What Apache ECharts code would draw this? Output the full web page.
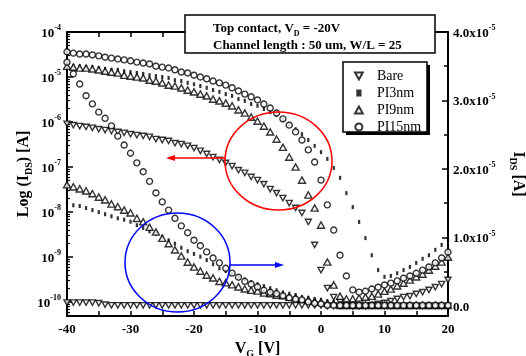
<!DOCTYPE html>
<html><head><meta charset="utf-8">
<script src="https://cdn.jsdelivr.net/npm/echarts@6/dist/echarts.min.js"></script>
<style>html,body{margin:0;padding:0;background:#fff}#c{width:526px;height:356px}</style>
</head><body><div id="c"></div>
<script>
// Gate voltage sweep (V)
const vg = [-40,-39,-38,-37,-36,-35,-34,-33,-32,-31,-30,-29,-28,-27,-26,-25,-24,-23,-22,-21,-20,-19,-18,-17,-16,-15,-14,-13,-12,-11,-10,-9,-8,-7,-6,-5,-4,-3,-2,-1,0,1,2,3,4,5,6,7,8,9,10,11,12,13,14,15,16,17,18,19,20];

// Log10(I_DS [A]) - left axis
const bareLog = [-6.04,-6.07,-6.09,-6.11,-6.13,-6.16,-6.18,-6.20,-6.22,-6.24,-6.27,-6.29,-6.31,-6.33,-6.38,-6.40,-6.42,-6.47,-6.49,-6.53,-6.58,-6.64,-6.71,-6.78,-6.84,-6.91,-6.98,-7.07,-7.13,-7.22,-7.29,-7.38,-7.49,-7.58,-7.69,-7.80,-7.91,-8.02,-8.22,-8.73,-9.29,-9.69,-9.89,-10.00,-10.07,-10.09,-10.09,-10.09,-10.07,-10.04,-10.02,-9.98,-9.93,-9.89,-9.87,-9.82,-9.78,-9.73,-9.67,-9.60,-9.51];
const pi3Log = [-4.73,-4.76,-4.76,-4.78,-4.78,-4.80,-4.82,-4.84,-4.84,-4.87,-4.89,-4.91,-4.93,-4.96,-4.98,-5.00,-5.02,-5.07,-5.09,-5.13,-5.16,-5.20,-5.24,-5.29,-5.33,-5.38,-5.42,-5.49,-5.53,-5.60,-5.64,-5.71,-5.78,-5.84,-5.96,-6.04,-6.16,-6.27,-6.40,-6.53,-6.67,-6.82,-7.02,-7.24,-7.58,-7.89,-8.22,-8.58,-8.96,-9.29,-9.44,-9.42,-9.36,-9.29,-9.22,-9.13,-9.04,-8.96,-8.84,-8.73,-8.62];
const pi9Log = [-4.76,-4.78,-4.80,-4.80,-4.82,-4.84,-4.87,-4.89,-4.91,-4.96,-4.98,-5.00,-5.02,-5.07,-5.09,-5.13,-5.18,-5.20,-5.24,-5.29,-5.33,-5.38,-5.42,-5.49,-5.53,-5.58,-5.64,-5.73,-5.80,-5.89,-5.98,-6.09,-6.22,-6.38,-6.56,-6.78,-7.00,-7.29,-7.62,-7.91,-8.29,-9.11,-9.62,-9.87,-9.93,-9.93,-9.91,-9.89,-9.87,-9.82,-9.76,-9.71,-9.64,-9.58,-9.51,-9.44,-9.38,-9.29,-9.20,-9.11,-9.00];
const pi15Log = [-4.44,-4.47,-4.49,-4.49,-4.51,-4.53,-4.56,-4.58,-4.60,-4.62,-4.64,-4.67,-4.69,-4.71,-4.76,-4.78,-4.80,-4.84,-4.89,-4.91,-4.96,-5.00,-5.04,-5.09,-5.13,-5.18,-5.24,-5.31,-5.38,-5.44,-5.51,-5.60,-5.69,-5.80,-5.93,-6.07,-6.22,-6.40,-6.62,-6.89,-7.29,-7.84,-8.40,-8.96,-9.42,-9.73,-9.78,-9.76,-9.71,-9.67,-9.62,-9.58,-9.53,-9.47,-9.42,-9.36,-9.29,-9.22,-9.13,-9.02,-8.89];

// I_DS in units of 1e-5 A - right axis
const bareLin = [0.05,0.05,0.05,0.05,0.05,0.04,0.02,0.01,0.01,0.01,0.01,0.01,0.01,0.01,0.01,0.01,0.01,0.01,0.01,0.01,0.01,0.01,0.01,0.01,0.01,0.01,0.01,0.01,0.01,0.01,0.01,0.01,0.01,0.01,0.01,0.01,0.01,0.01,0.01,0.01,0.01,0.00,0.00,0.00,0.00,0.00,0.00,0.00,0.00,0.00,0.00,0.00,0.00,0.00,0.00,0.00,0.00,0.00,0.00,0.00,0.00];
const pi3Lin = [1.50,1.47,1.46,1.43,1.40,1.37,1.34,1.31,1.28,1.26,1.23,1.18,1.14,1.09,1.05,1.01,0.96,0.91,0.85,0.80,0.76,0.72,0.67,0.61,0.55,0.51,0.47,0.42,0.39,0.35,0.32,0.29,0.26,0.23,0.20,0.18,0.16,0.13,0.12,0.10,0.09,0.07,0.06,0.04,0.03,0.01,0.01,0.01,0.01,0.01,0.01,0.01,0.01,0.01,0.01,0.01,0.01,0.01,0.01,0.01,0.01];
const pi9Lin = [1.77,1.74,1.71,1.68,1.64,1.59,1.55,1.49,1.45,1.40,1.36,1.28,1.23,1.15,1.08,0.99,0.91,0.82,0.73,0.64,0.57,0.51,0.45,0.41,0.36,0.34,0.31,0.28,0.25,0.23,0.22,0.19,0.18,0.16,0.15,0.13,0.12,0.10,0.09,0.07,0.06,0.04,0.03,0.01,0.01,0.01,0.01,0.01,0.01,0.01,0.01,0.01,0.01,0.01,0.01,0.01,0.01,0.01,0.01,0.01,0.01];
const pi15Lin = [3.56,3.39,3.24,3.07,2.95,2.83,2.74,2.63,2.48,2.35,2.23,2.09,1.96,1.82,1.65,1.52,1.40,1.28,1.17,1.07,0.96,0.88,0.79,0.70,0.63,0.55,0.48,0.42,0.36,0.32,0.28,0.23,0.20,0.18,0.15,0.12,0.10,0.09,0.06,0.04,0.03,0.01,0.01,0.01,0.01,0.01,0.01,0.01,0.01,0.01,0.01,0.01,0.01,0.01,0.01,0.01,0.01,0.01,0.01,0.01,0.01];

// tick labels
const xTicks = [-40,-30,-20,-10,0,10,20];
const leftExps = [-10,-9,-8,-7,-6,-5,-4];
const rightTicks = [0,1,2,3,4];
const rightMinor = [0.5,1.5,2.5,3.5];
const legendNames = ['Bare','PI3nm','PI9nm','PI15nm'];

const F = 'Liberation Serif';
const leftMinor = [];
for (let n = -11; n <= -5; n++) for (let k = 2; k <= 9; k++) {
  const v = n + Math.log10(k);
  if (v > -10.31 && v < -4) leftMinor.push(v);
}

const triDown = 'path://M0,0L10,0L5,9Z';
const triUp = 'path://M5,0L10,9L0,9Z';
const smallRect = 'path://M0,0L3,0L3,4L0,4Z';
const hollow = {color:'#fff', borderColor:'#000', borderWidth:1.4};
const filled = {color:'#000', borderWidth:0};

function ser(name, arr, yIdx, symbol, size, st) {
  return {type:'scatter', name, xAxisIndex:0, yAxisIndex:yIdx, symbol, symbolSize:size,
    symbolKeepAspect:true, itemStyle:st, data: vg.map((v,i)=>[v, arr[i]]), silent:true};
}

const supRich = {
  b:{fontFamily:F, fontWeight:'bold', fontSize:13, color:'#000', lineHeight:16, verticalAlign:'bottom'},
  s:{fontFamily:F, fontWeight:'bold', fontSize:8, color:'#000', verticalAlign:'top', lineHeight:16}
};
const subRich = (fs) => ({
  sub:{fontFamily:F, fontWeight:'bold', fontSize:Math.round(fs*0.62), color:'#000', verticalAlign:'bottom', lineHeight:fs+4}
});
const clearLine = {show:true, onZero:false, lineStyle:{color:'rgba(0,0,0,0)', width:1}};

const chart = echarts.init(document.getElementById('c'), null, {renderer:'canvas'});
chart.setOption({
  animation:false,
  backgroundColor:'#fff',
  grid:{left:67, right:78, top:32, bottom:40, containLabel:false, outerBoundsMode:'none'},
  legend:{
    left:349, top:64, orient:'vertical', itemWidth:26, itemHeight:7, itemGap:3,
    selectedMode:false, data:legendNames, symbolKeepAspect:true,
    textStyle:{fontFamily:F, fontSize:14, color:'#000'}
  },
  xAxis:[{
    type:'value', position:'bottom', min:-40, max:20, interval:10,
    axisLine:{onZero:false, lineStyle:{color:'#000', width:2}},
    axisTick:{inside:true, length:5, lineStyle:{width:1.5, color:'#000'}},
    minorTick:{show:true, splitNumber:2, length:5, lineStyle:{width:1.5, color:'#000'}},
    splitLine:{show:false},
    axisLabel:{fontFamily:F, fontWeight:'bold', fontSize:13, color:'#000', margin:7},
    name:'V{sub|G} [V]', nameLocation:'middle', nameGap:23,
    nameTextStyle:{fontFamily:F, fontWeight:'bold', fontSize:16, color:'#000', rich:subRich(16)}
  },{
    type:'value', position:'top', min:-40, max:20, interval:10,
    axisLine:{onZero:false, lineStyle:{color:'#000', width:2}},
    axisTick:{inside:true, length:5, lineStyle:{width:1.5, color:'#000'}},
    minorTick:{show:true, splitNumber:2, length:5, lineStyle:{width:1.5, color:'#000'}},
    splitLine:{show:false}, axisLabel:{show:false}
  }],
  yAxis:[{
    type:'value', position:'left', min:-10.31, max:-4,
    axisLine:{onZero:false, lineStyle:{color:'#000', width:2}},
    axisTick:{inside:true, length:6, customValues:leftExps, lineStyle:{width:1.5, color:'#000'}},
    splitLine:{show:false},
    axisLabel:{customValues:leftExps, margin:6, formatter:(v)=>'{b|10}{s|'+v+'}', rich:supRich},
    name:'Log (I{sub|DS}) [A]', nameLocation:'middle', nameRotate:90, nameGap:33, nameMoveOverlap:false,
    nameTextStyle:{fontFamily:F, fontWeight:'bold', fontSize:16, color:'#000', rich:subRich(16)}
  },{
    type:'value', position:'left', offset:0, min:-10.31, max:-4,
    axisLine:clearLine,
    axisTick:{show:true, inside:true, length:3, customValues:leftMinor, lineStyle:{width:1.2, color:'#000'}},
    splitLine:{show:false},
    axisLabel:{show:true, customValues:leftMinor, formatter:()=>''}
  },{
    type:'value', position:'right', min:-0.146, max:4,
    axisLine:{onZero:false, lineStyle:{color:'#000', width:2}},
    axisTick:{inside:true, length:6, customValues:rightTicks, lineStyle:{width:1.5, color:'#000'}},
    splitLine:{show:false},
    axisLabel:{customValues:rightTicks, margin:5,
      formatter:(v)=> v===0 ? '{b|0.0}' : '{b|'+v.toFixed(1)+'x10}{s|-5}', rich:supRich},
    name:'I{sub|DS} [A]', nameLocation:'middle', nameRotate:-90, nameGap:60, nameMoveOverlap:false,
    nameTextStyle:{fontFamily:F, fontWeight:'bold', fontSize:16, color:'#000', rich:subRich(16)}
  },{
    type:'value', position:'right', offset:0, min:-0.146, max:4,
    axisLine:clearLine,
    axisTick:{show:true, inside:true, length:4, customValues:rightMinor, lineStyle:{width:1.5, color:'#000'}},
    splitLine:{show:false},
    axisLabel:{show:true, customValues:rightMinor, formatter:()=>''}
  }],
  series:[
    ser('Bare', bareLog, 0, triDown, 6, hollow),
    ser('PI3nm', pi3Log, 0, smallRect, [3,4], filled),
    ser('PI9nm', pi9Log, 0, triUp, 7, hollow),
    ser('PI15nm', pi15Log, 0, 'circle', 6, hollow),
    ser('Bare', bareLin, 2, triDown, 6, hollow),
    ser('PI3nm', pi3Lin, 2, smallRect, [3,4], filled),
    ser('PI9nm', pi9Lin, 2, triUp, 7, hollow),
    ser('PI15nm', pi15Lin, 2, 'circle', 6, hollow)
  ],
  graphic:[
    {type:'rect', z:3, shape:{x:346, y:65, width:84, height:70}, style:{fill:'#000'}},
    {type:'rect', z:3, shape:{x:343, y:62, width:84, height:70}, style:{fill:'#fff', stroke:'#000', lineWidth:1.5}},
    {type:'rect', z:10, shape:{x:185, y:15, width:250, height:38}, style:{fill:'#fff', stroke:'#000', lineWidth:1.5}},
    {type:'text', z:11, style:{x:213, y:29, text:'Top contact, V{sub|D} = -20V', verticalAlign:'middle',
      fontFamily:F, fontWeight:'bold', fontSize:13, fill:'#000',
      rich:{sub:{fontFamily:F, fontWeight:'bold', fontSize:8, fill:'#000', verticalAlign:'bottom', lineHeight:17}}}},
    {type:'text', z:11, style:{x:213, y:46, text:'Channel length : 50 um, W/L = 25', verticalAlign:'middle',
      fontFamily:F, fontWeight:'bold', fontSize:13, fill:'#000'}},
    {type:'ellipse', z:5, shape:{cx:278.5, cy:161, rx:53.5, ry:49}, style:{fill:'none', stroke:'#ff0000', lineWidth:1.5}},
    {type:'polyline', z:5, shape:{points:[[225,158],[173,158]]}, style:{stroke:'#ff0000', lineWidth:1.5}},
    {type:'polygon', z:5, shape:{points:[[166,158],[175,155],[175,161]]}, style:{fill:'#ff0000'}},
    {type:'ellipse', z:5, shape:{cx:177.5, cy:262.5, rx:52.5, ry:49.5}, style:{fill:'none', stroke:'#0000ff', lineWidth:1.5}},
    {type:'polyline', z:5, shape:{points:[[230,265],[277,265]]}, style:{stroke:'#0000ff', lineWidth:1.5}},
    {type:'polygon', z:5, shape:{points:[[284,265],[275,262],[275,268]]}, style:{fill:'#0000ff'}}
  ]
});
</script></body></html>
